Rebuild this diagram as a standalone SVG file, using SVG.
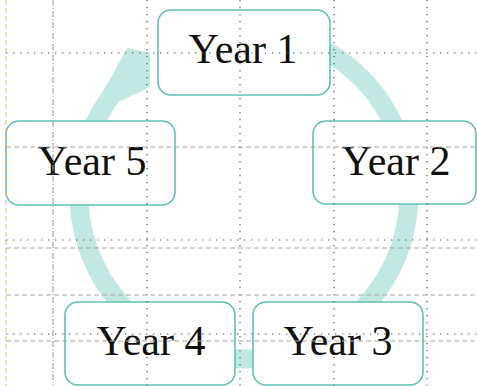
<svg xmlns="http://www.w3.org/2000/svg" width="477" height="386" viewBox="0 0 477 386">
<style>
.box{fill:#ffffff;stroke:#62c0b6;stroke-width:1.6}
.lbl{font-family:"Liberation Serif","Times New Roman",serif;font-size:42px;fill:#111;text-anchor:middle}
.ring{fill:none;stroke:#c2e8e3;stroke-width:19}
.head{fill:#c2e8e3}
.dot{stroke:#555;stroke-width:1.2;stroke-dasharray:1.3 5.7;fill:none}
.dash{stroke:#a8a8a8;stroke-width:1;stroke-dasharray:5 3;fill:none}
.dashdot{stroke:#999;stroke-width:1;stroke-dasharray:6 2 1 2;fill:none}
.orange{stroke:#f2b766;stroke-width:1;stroke-dasharray:5 3;fill:none}
</style>
<rect width="477" height="386" fill="#ffffff"/>
<g id="connectors">
<path class="ring" d="M 300.4 39.0 A 165 165 0 1 1 142.4 64.0"/>
<polygon class="head" points="100,97 114,72 127,48 150,53 150,87 121,101"/>
</g>
<g id="node1"><rect class="box" x="158" y="10" width="172" height="85" rx="13"/><text class="lbl" x="243" y="63">Year 1</text></g>
<g id="node2"><rect class="box" x="313" y="121" width="163" height="83" rx="13"/><text class="lbl" x="396" y="175">Year 2</text></g>
<g id="node3"><rect class="box" x="253" y="302" width="170" height="83" rx="13"/><text class="lbl" x="338" y="355">Year 3</text></g>
<g id="node4"><rect class="box" x="65" y="302" width="170" height="83" rx="13"/><text class="lbl" x="151" y="355">Year 4</text></g>
<g id="node5"><rect class="box" x="6" y="121" width="169" height="84" rx="13"/><text class="lbl" x="92" y="175">Year 5</text></g>
<g id="grid">
<line class="orange" x1="6" y1="0" x2="6" y2="386"/>
<line class="dashdot" x1="53" y1="0" x2="53" y2="386"/>
<line class="dot" x1="147" y1="0" x2="147" y2="386"/>
<line class="dot" x1="240" y1="0" x2="240" y2="386"/>
<line class="dot" x1="334" y1="0" x2="334" y2="386"/>
<line class="dot" x1="427" y1="0" x2="427" y2="386"/>
<line class="dot" x1="6" y1="53" x2="477" y2="53"/>
<line class="dash" x1="6" y1="147" x2="477" y2="147"/>
<line class="dot" x1="6" y1="240" x2="477" y2="240"/>
<line class="dash" x1="6" y1="248" x2="477" y2="248"/>
<line class="dash" x1="6" y1="295" x2="477" y2="295"/>
<line class="dot" x1="6" y1="334" x2="477" y2="334"/>
<line class="dash" x1="6" y1="341" x2="477" y2="341"/>
</g>
</svg>
